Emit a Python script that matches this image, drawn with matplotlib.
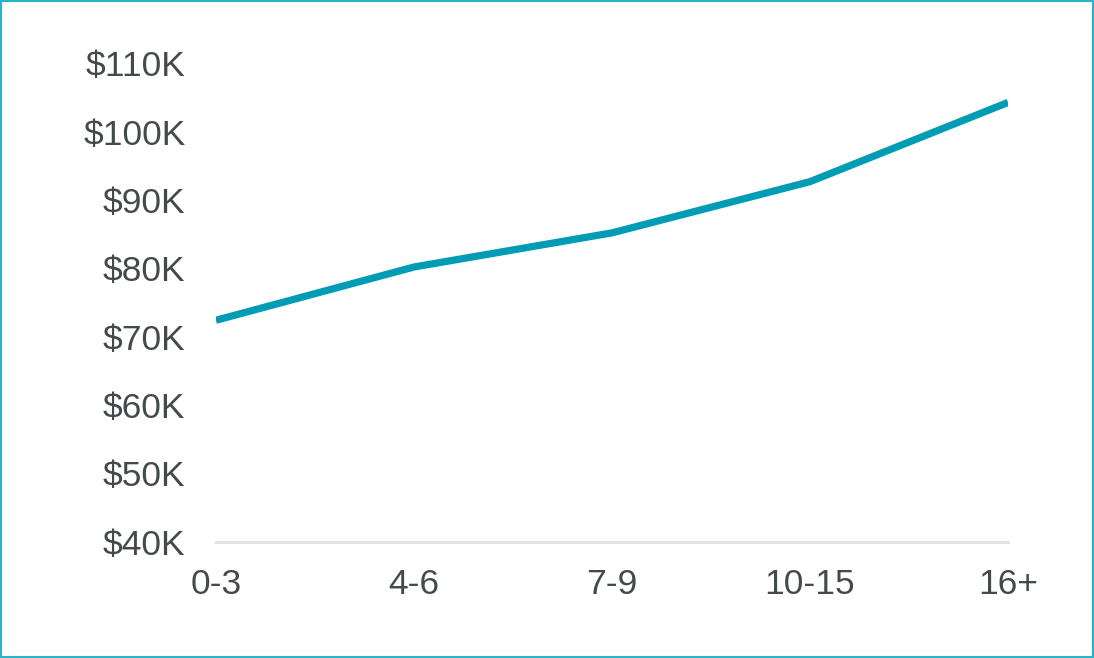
import matplotlib
matplotlib.use("Agg")
import matplotlib.pyplot as plt
from matplotlib.ticker import FuncFormatter

categories = ["0-3", "4-6", "7-9", "10-15", "16+"]
salary_k = [72.4, 80.2, 85.2, 92.7, 104.3]
y_ticks = [40, 50, 60, 70, 80, 90, 100, 110]

plt.rcParams['font.family'] = ['Liberation Sans', 'DejaVu Sans']
text_color = "#444a4a"

fig = plt.figure(figsize=(10.94, 6.58), dpi=100)
ax = fig.add_axes([0.1974, 0.177, 0.7240, 0.7265])

x = list(range(len(categories)))
ax.plot(x, salary_k, color="#009BB5", linewidth=5.2, solid_capstyle="butt", solid_joinstyle="round")

ax.set_xlim(0, len(categories) - 1)
ax.set_ylim(40, 110)
ax.set_yticks(y_ticks)
ax.yaxis.set_major_formatter(FuncFormatter(lambda v, p: f"${int(v)}K"))
ax.set_xticks(x)
ax.set_xticklabels(categories)

for s in ["top", "right", "left"]:
    ax.spines[s].set_visible(False)
ax.spines["bottom"].set_color("#E2E3E5")
ax.spines["bottom"].set_linewidth(2.2)
ax.spines["bottom"].set_zorder(0)

ax.tick_params(axis="both", length=0, labelsize=25.5, colors=text_color)
ax.tick_params(axis="y", pad=22)
ax.tick_params(axis="x", pad=19)

# figure border
border = plt.Rectangle((0.001, 0.001), 0.998, 0.997, transform=fig.transFigure,
                       fill=False, edgecolor="#2BB3CA", linewidth=1.5)
fig.patches.append(border)

fig.savefig("out.png", dpi=100, facecolor="white")
